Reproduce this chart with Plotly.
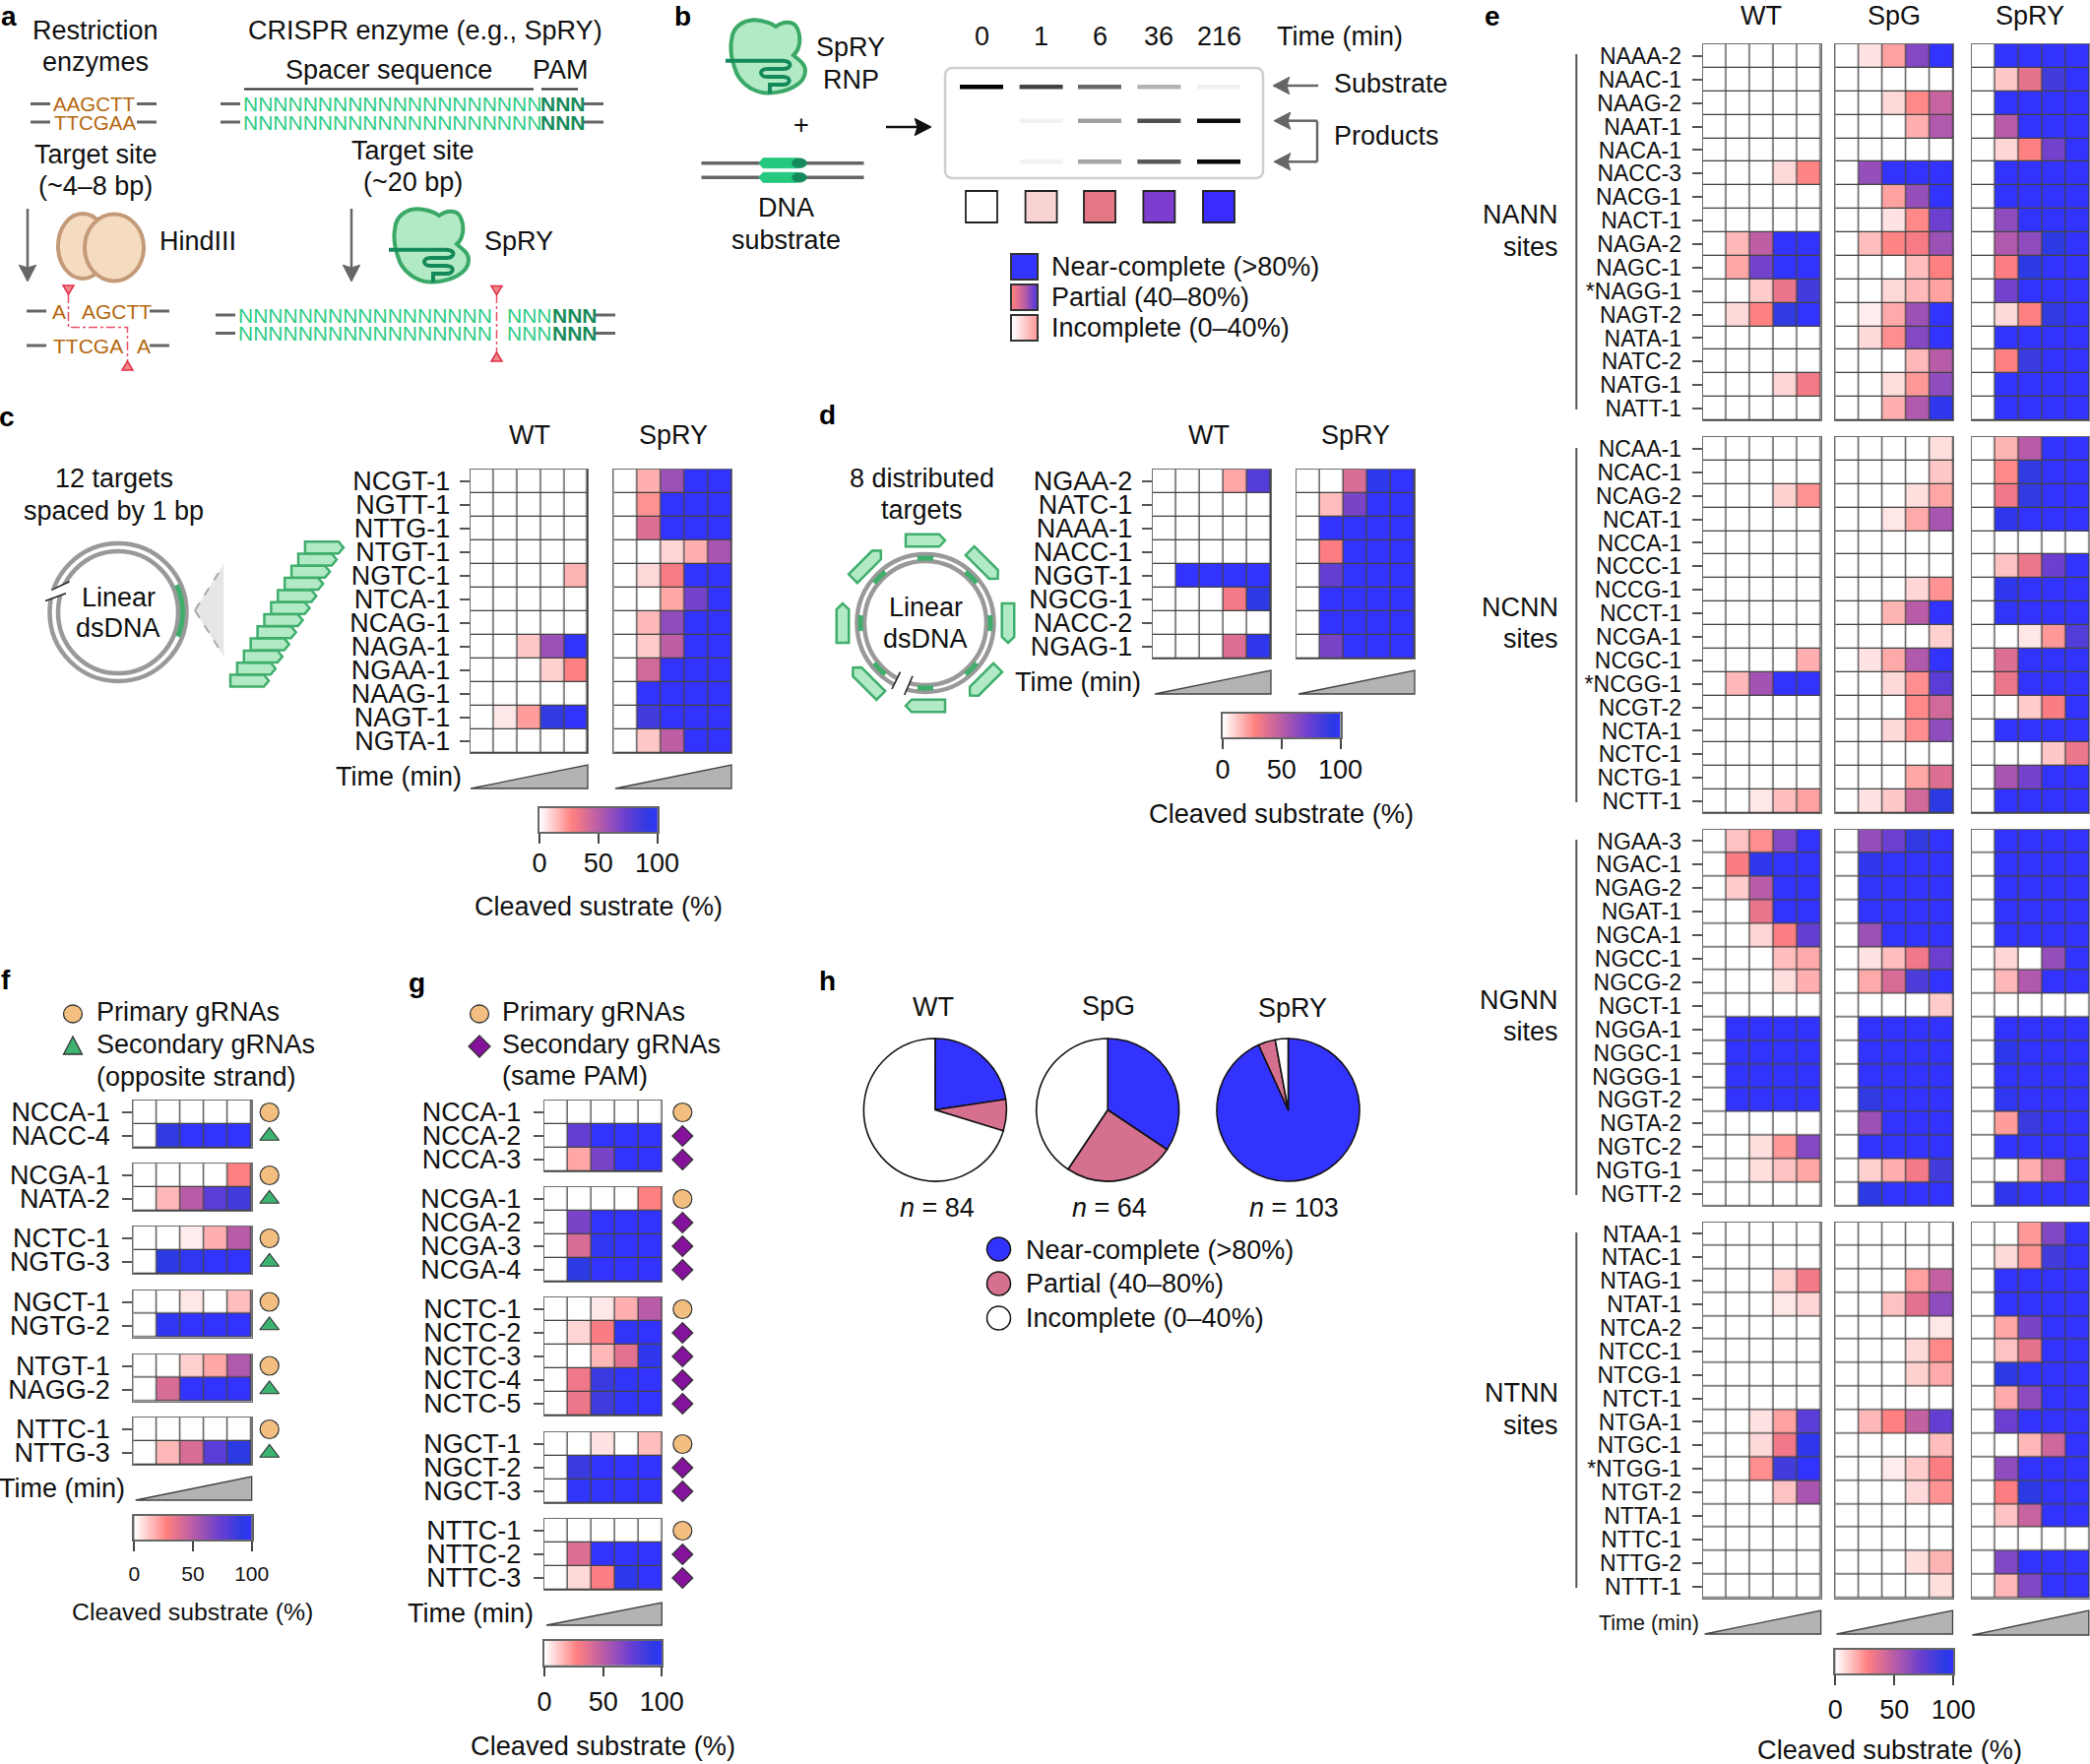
import math
import plotly.graph_objects as go

W, H = 2123, 1792
FONT = "Liberation Sans"

time_labels = ["0", "1", "6", "36", "216"]
gel_substrate = ["#000000", "#444444", "#6a6a6a", "#b4b4b4", "#f0f0f0"]
gel_product_1 = ["#ffffff", "#f2f2f2", "#a0a0a0", "#505050", "#0c0c0c"]
gel_product_2 = ["#ffffff", "#f2f2f2", "#a4a4a4", "#585858", "#080808"]
gel_swatches = ["#ffffff", "#f8d3d3", "#e57683", "#7d3ecf", "#3a2bff"]

cbar_values = [0, 5, 10, 15, 20, 25, 30, 35, 40, 45, 50, 55, 60, 65, 70, 75, 80, 85, 90, 95, 100]
cbar_ticks = [0, 50, 100]

# panel c
c_labels = ["NCGT-1", "NGTT-1", "NTTG-1", "NTGT-1", "NGTC-1", "NTCA-1", "NCAG-1", "NAGA-1", "NGAA-1", "NAAG-1", "NAGT-1", "NGTA-1"]
c_wt = [[0, 0, 0, 0, 0], [0, 0, 0, 0, 0], [0, 0, 0, 0, 0], [0, 0, 0, 0, 0],
        [0, 0, 0, 0, 16], [0, 0, 0, 0, 0], [0, 0, 0, 0, 0], [0, 0, 12, 58, 100],
        [0, 0, 0, 10, 27], [0, 0, 0, 0, 0], [0, 5, 21, 90, 100], [0, 0, 0, 0, 0]]
c_spry = [[0, 17, 58, 100, 100], [0, 23, 100, 100, 100], [0, 38, 100, 100, 100], [0, 0, 9, 17, 55],
          [0, 8, 30, 100, 100], [0, 0, 19, 70, 100], [0, 15, 62, 100, 100], [0, 11, 48, 100, 100],
          [0, 42, 100, 100, 100], [0, 100, 100, 100, 100], [0, 85, 100, 100, 100], [0, 12, 48, 100, 100]]

# panel d
d_labels = ["NGAA-2", "NATC-1", "NAAA-1", "NACC-1", "NGGT-1", "NGCG-1", "NACC-2", "NGAG-1"]
d_wt = [[0, 0, 0, 19, 80], [0, 0, 0, 0, 0], [0, 0, 0, 0, 0], [0, 0, 0, 0, 0],
        [0, 100, 100, 100, 100], [0, 0, 0, 31, 92], [0, 0, 0, 0, 0], [0, 0, 0, 38, 95]]
d_spry = [[0, 0, 40, 94, 100], [0, 14, 68, 100, 100], [0, 100, 100, 100, 100], [0, 28, 100, 100, 100],
          [0, 75, 100, 100, 100], [0, 100, 100, 100, 100], [0, 100, 100, 100, 100], [0, 68, 100, 100, 100]]

# panel e
nann_labels = ["NAAA-2", "NAAC-1", "NAAG-2", "NAAT-1", "NACA-1", "NACC-3", "NACG-1", "NACT-1", "NAGA-2", "NAGC-1", "*NAGG-1", "NAGT-2", "NATA-1", "NATC-2", "NATG-1", "NATT-1"]
nann_wt = [[0, 0, 0, 0, 0], [0, 0, 0, 0, 0], [0, 0, 0, 0, 0], [0, 0, 0, 0, 0],
           [0, 0, 0, 0, 0], [0, 0, 0, 8, 26], [0, 0, 0, 0, 0], [0, 0, 0, 0, 0],
           [0, 15, 48, 100, 100], [0, 19, 70, 100, 100], [0, 0, 11, 34, 85], [0, 8, 27, 90, 100],
           [0, 0, 0, 0, 0], [0, 0, 0, 0, 0], [0, 0, 0, 9, 31], [0, 0, 0, 0, 0]]
nann_spg = [[0, 6, 20, 65, 100], [0, 0, 0, 0, 0], [0, 0, 8, 25, 45], [0, 0, 0, 17, 52],
            [0, 0, 0, 0, 0], [0, 60, 100, 100, 100], [0, 0, 20, 60, 100], [0, 0, 6, 25, 72],
            [0, 14, 26, 30, 58], [0, 0, 0, 14, 27], [0, 0, 8, 15, 20], [0, 4, 18, 58, 100],
            [0, 8, 24, 65, 100], [0, 0, 0, 15, 50], [0, 0, 7, 22, 62], [0, 0, 17, 52, 95]]
nann_spry = [[0, 100, 100, 100, 100], [0, 12, 35, 85, 100], [0, 100, 100, 100, 100], [0, 50, 100, 100, 100],
             [0, 9, 27, 70, 100], [0, 100, 100, 100, 100], [0, 100, 100, 100, 100], [0, 62, 100, 100, 100],
             [0, 52, 62, 92, 100], [0, 28, 92, 100, 100], [0, 70, 100, 100, 100], [0, 8, 27, 90, 100],
             [0, 100, 100, 100, 100], [0, 27, 88, 100, 100], [0, 100, 100, 100, 100], [0, 100, 100, 100, 100]]

ncnn_labels = ["NCAA-1", "NCAC-1", "NCAG-2", "NCAT-1", "NCCA-1", "NCCC-1", "NCCG-1", "NCCT-1", "NCGA-1", "NCGC-1", "*NCGG-1", "NCGT-2", "NCTA-1", "NCTC-1", "NCTG-1", "NCTT-1"]
ncnn_wt = [[0, 0, 0, 0, 0], [0, 0, 0, 0, 0], [0, 0, 0, 10, 23], [0, 0, 0, 0, 0],
           [0, 0, 0, 0, 0], [0, 0, 0, 0, 0], [0, 0, 0, 0, 0], [0, 0, 0, 0, 0],
           [0, 0, 0, 0, 0], [0, 0, 0, 0, 17], [0, 15, 56, 100, 100], [0, 0, 0, 0, 0],
           [0, 0, 0, 0, 0], [0, 0, 0, 0, 0], [0, 0, 0, 0, 0], [0, 0, 5, 14, 20]]
ncnn_spg = [[0, 0, 0, 0, 7], [0, 0, 0, 0, 12], [0, 0, 0, 7, 19], [0, 0, 5, 18, 55],
            [0, 0, 0, 0, 0], [0, 0, 0, 0, 0], [0, 0, 0, 9, 23], [0, 0, 16, 50, 100],
            [0, 0, 0, 0, 10], [0, 6, 18, 52, 100], [0, 0, 8, 24, 78], [0, 0, 0, 25, 42],
            [0, 0, 8, 24, 62], [0, 0, 0, 0, 0], [0, 0, 0, 19, 38], [0, 6, 12, 42, 92]]
ncnn_spry = [[0, 16, 50, 100, 100], [0, 25, 90, 100, 100], [0, 32, 90, 100, 100], [0, 95, 100, 100, 100],
             [0, 0, 0, 0, 0], [0, 13, 33, 72, 100], [0, 95, 100, 100, 100], [0, 98, 100, 100, 100],
             [0, 0, 5, 22, 80], [0, 38, 100, 100, 100], [0, 33, 100, 100, 100], [0, 0, 11, 29, 100],
             [0, 100, 100, 100, 100], [0, 0, 0, 12, 33], [0, 55, 70, 100, 100], [0, 100, 100, 100, 100]]

ngnn_labels = ["NGAA-3", "NGAC-1", "NGAG-2", "NGAT-1", "NGCA-1", "NGCC-1", "NGCG-2", "NGCT-1", "NGGA-1", "NGGC-1", "NGGG-1", "NGGT-2", "NGTA-2", "NGTC-2", "NGTG-1", "NGTT-2"]
ngnn_wt = [[0, 13, 24, 65, 100], [0, 29, 95, 100, 100], [0, 11, 50, 100, 100], [0, 0, 34, 100, 100],
           [0, 0, 9, 28, 75], [0, 0, 0, 14, 18], [0, 0, 0, 7, 17], [0, 0, 0, 0, 0],
           [0, 100, 100, 100, 100], [0, 100, 100, 100, 100], [0, 100, 100, 100, 100], [0, 100, 100, 100, 100],
           [0, 0, 0, 0, 0], [0, 0, 7, 22, 65], [0, 0, 7, 13, 19], [0, 0, 0, 0, 0]]
ngnn_spg = [[0, 60, 72, 90, 100], [0, 95, 100, 100, 100], [0, 98, 100, 100, 100], [0, 100, 100, 100, 100],
            [0, 58, 100, 100, 100], [0, 6, 14, 32, 72], [0, 18, 40, 82, 100], [0, 0, 0, 0, 11],
            [0, 100, 100, 100, 100], [0, 100, 100, 100, 100], [0, 100, 100, 100, 100], [0, 90, 100, 100, 100],
            [0, 58, 100, 100, 100], [0, 100, 100, 100, 100], [0, 10, 17, 31, 85], [0, 92, 100, 100, 100]]
ngnn_spry = [[0, 100, 100, 100, 100], [0, 100, 100, 100, 100], [0, 100, 100, 100, 100], [0, 100, 100, 100, 100],
             [0, 100, 100, 100, 100], [0, 9, 0, 60, 100], [0, 15, 52, 100, 100], [0, 0, 0, 0, 0],
             [0, 100, 100, 100, 100], [0, 94, 100, 100, 100], [0, 100, 100, 100, 100], [0, 96, 100, 100, 100],
             [0, 21, 88, 100, 100], [0, 100, 100, 100, 100], [0, 0, 17, 44, 100], [0, 95, 100, 100, 100]]

ntnn_labels = ["NTAA-1", "NTAC-1", "NTAG-1", "NTAT-1", "NTCA-2", "NTCC-1", "NTCG-1", "NTCT-1", "NTGA-1", "NTGC-1", "*NTGG-1", "NTGT-2", "NTTA-1", "NTTC-1", "NTTG-2", "NTTT-1"]
ntnn_wt = [[0, 0, 0, 0, 0], [0, 0, 0, 0, 0], [0, 0, 0, 10, 31], [0, 0, 0, 5, 9],
           [0, 0, 0, 0, 0], [0, 0, 0, 0, 0], [0, 0, 0, 0, 0], [0, 0, 0, 0, 0],
           [0, 0, 6, 20, 78], [0, 0, 8, 32, 95], [0, 0, 24, 85, 100], [0, 0, 0, 13, 55],
           [0, 0, 0, 0, 0], [0, 0, 0, 0, 0], [0, 0, 0, 0, 0], [0, 0, 0, 0, 0]]
ntnn_spg = [[0, 0, 0, 0, 0], [0, 0, 0, 0, 0], [0, 0, 0, 20, 46], [0, 0, 13, 36, 62],
            [0, 0, 0, 0, 5], [0, 0, 0, 8, 25], [0, 0, 0, 10, 18], [0, 0, 0, 0, 0],
            [0, 15, 27, 47, 75], [0, 0, 0, 0, 14], [0, 0, 4, 11, 28], [0, 0, 0, 8, 23],
            [0, 0, 0, 0, 0], [0, 0, 0, 0, 0], [0, 0, 0, 7, 16], [0, 0, 0, 0, 7]]
ntnn_spry = [[0, 0, 22, 66, 100], [0, 8, 23, 85, 100], [0, 100, 100, 100, 100], [0, 100, 100, 100, 100],
             [0, 19, 68, 100, 100], [0, 13, 35, 100, 100], [0, 92, 100, 100, 100], [0, 18, 62, 100, 100],
             [0, 72, 100, 100, 100], [0, 0, 15, 43, 100], [0, 62, 100, 100, 100], [0, 28, 92, 100, 100],
             [0, 13, 45, 100, 100], [0, 0, 0, 0, 0], [0, 66, 100, 100, 100], [0, 15, 66, 100, 100]]

# panel f, pairs of primary / secondary
f_groups = [["NCCA-1", "NACC-4"], ["NCGA-1", "NATA-2"], ["NCTC-1", "NGTG-3"],
            ["NGCT-1", "NGTG-2"], ["NTGT-1", "NAGG-2"], ["NTTC-1", "NTTG-3"]]
f_values = [[[0, 0, 0, 0, 0], [0, 90, 100, 100, 100]],
            [[0, 0, 0, 0, 27], [0, 15, 50, 78, 85]],
            [[0, 0, 4, 17, 50], [0, 92, 96, 100, 100]],
            [[0, 0, 5, 0, 14], [0, 96, 100, 100, 100]],
            [[0, 0, 10, 19, 52], [0, 40, 100, 100, 100]],
            [[0, 0, 0, 0, 0], [0, 15, 40, 78, 92]]]

# panel g
g_groups = [["NCCA-1", "NCCA-2", "NCCA-3"], ["NCGA-1", "NCGA-2", "NCGA-3", "NCGA-4"],
            ["NCTC-1", "NCTC-2", "NCTC-3", "NCTC-4", "NCTC-5"], ["NGCT-1", "NGCT-2", "NGCT-3"],
            ["NTTC-1", "NTTC-2", "NTTC-3"]]
g_values = [[[0, 0, 0, 0, 0], [0, 75, 100, 100, 100], [0, 19, 68, 100, 100]],
            [[0, 0, 0, 0, 27], [0, 68, 100, 100, 100], [0, 40, 96, 100, 100], [0, 92, 100, 100, 100]],
            [[0, 0, 5, 17, 50], [0, 9, 29, 98, 100], [0, 0, 15, 36, 95], [0, 32, 88, 98, 100], [0, 33, 86, 98, 100]],
            [[0, 0, 6, 0, 14], [0, 88, 100, 100, 100], [0, 98, 100, 100, 100]],
            [[0, 0, 0, 0, 0], [0, 38, 100, 100, 100], [0, 8, 28, 94, 100]]]

# panel h
pie_names = ["WT", "SpG", "SpRY"]
pie_levels = ["Near-complete (>80%)", "Partial (40–80%)", "Incomplete (0–40%)"]
pie_wt = [19, 6, 59]
pie_spg = [22, 16, 26]
pie_spry = [96, 4, 3]
pie_colors = ["#3333ff", "#d6708f", "#ffffff"]

scale = [[0, "#ffffff"], [0.27, "#ff8080"], [0.5, "#b85ca8"], [0.72, "#6c3fd0"], [0.92, "#2c3ae4"], [1, "#3333ff"]]

fig = go.Figure()
shapes = []
notes = []
layout_axes = {}
axis_count = 0


def px(x):
    return x / W


def py(y):
    return 1 - y / H


def text(x, y, s, size=27, anchor="center", color="#111111"):
    notes.append(dict(x=px(x), y=py(y), xref="paper", yref="paper", text=s, showarrow=False,
                      xanchor=anchor, yanchor="middle", borderpad=0,
                      font=dict(family=FONT, size=size, color=color)))


def poly(points, fill="rgba(0,0,0,0)", line="#444444", width=1.5, close=True, dash=None):
    d = "M" + " L".join(f"{px(a):.5f},{py(b):.5f}" for a, b in points)
    if close:
        d += " Z"
    shapes.append(dict(type="path", path=d, xref="paper", yref="paper", fillcolor=fill,
                       line=dict(color=line, width=width, dash=dash)))


def curve(d_parts, ox, oy, fill="rgba(0,0,0,0)", line="#444444", width=2):
    # d_parts holds svg commands with local pixel points
    out = []
    for part in d_parts:
        cmd, pts = part
        out.append(cmd + " ".join(f"{px(ox + a):.5f},{py(oy + b):.5f}" for a, b in pts))
    shapes.append(dict(type="path", path=" ".join(out), xref="paper", yref="paper", fillcolor=fill,
                       line=dict(color=line, width=width)))


def seg(x0, y0, x1, y1, color="#666666", width=3, dash=None):
    shapes.append(dict(type="line", xref="paper", yref="paper", x0=px(x0), y0=py(y0), x1=px(x1), y1=py(y1),
                       line=dict(color=color, width=width, dash=dash)))


def box(x0, y0, x1, y1, fill, line=None, width=0, layer="above"):
    shapes.append(dict(type="rect", xref="paper", yref="paper", x0=px(x0), y0=py(y0), x1=px(x1), y1=py(y1),
                       fillcolor=fill, layer=layer, line=dict(color=line or fill, width=width)))


def oval(cx, cy, rx, ry, fill="rgba(0,0,0,0)", line="#999999", width=4):
    shapes.append(dict(type="circle", xref="paper", yref="paper", x0=px(cx - rx), y0=py(cy - ry),
                       x1=px(cx + rx), y1=py(cy + ry), fillcolor=fill, line=dict(color=line, width=width)))


def arrow(x0, y0, x1, y1, color="#666666", width=3, head=12):
    ang = math.atan2(y1 - y0, x1 - x0)
    bx, by = x1 - head * math.cos(ang), y1 - head * math.sin(ang)
    seg(x0, y0, bx, by, color, width)
    nx, ny = -math.sin(ang) * head * 0.62, math.cos(ang) * head * 0.62
    poly([(x1, y1), (bx + nx - head * 0.2 * math.cos(ang), by + ny - head * 0.2 * math.sin(ang)), (bx, by),
          (bx - nx - head * 0.2 * math.cos(ang), by - ny - head * 0.2 * math.sin(ang))], fill=color, line=color, width=1)


def pentagon(cx, cy, length, thick, deg, tip=6):
    a = math.radians(deg)
    local = [(-length / 2, -thick / 2), (length / 2 - tip, -thick / 2), (length / 2, 0),
             (length / 2 - tip, thick / 2), (-length / 2, thick / 2)]
    pts = [(cx + u * math.cos(a) - v * math.sin(a), cy + u * math.sin(a) + v * math.cos(a)) for u, v in local]
    poly(pts, fill="#b3eac6", line="#3fae6c", width=2.5)


def arc(cx, cy, r, a0, a1, color="#3fae6c", width=5):
    steps = 10
    pts = []
    for i in range(steps + 1):
        a = math.radians(a0 + (a1 - a0) * i / steps)
        pts.append((cx + r * math.sin(a), cy - r * math.cos(a)))
    poly(pts, line=color, width=width, close=False)


def time_wedge(x0, x1, y0, y1):
    poly([(x0, y1), (x1, y0), (x1, y1)], fill="#b3b3b3", line="#444444", width=1.3)


def next_axes(x0, x1, y0, y1):
    global axis_count
    axis_count += 1
    k = axis_count
    xname, yname = f"xaxis{k}", f"yaxis{k}"
    ax = dict(domain=[px(x0), px(x1)], anchor=f"y{k}", showgrid=False, zeroline=False, automargin=False)
    ay = dict(domain=[py(y1), py(y0)], anchor=f"x{k}", showgrid=False, zeroline=False, automargin=False)
    layout_axes[xname] = ax
    layout_axes[yname] = ay
    return k, ax, ay


def grid(x0, x1, y0, y1, labels, rows, show_labels=True, size=27, ticklen=10, standoff=4):
    k, ax, ay = next_axes(x0, x1, y0, y1)
    n = len(labels)
    fig.add_trace(go.Heatmap(z=rows, x=[0, 1, 2, 3, 4], y=labels, xaxis=f"x{k}", yaxis=f"y{k}", colorscale=scale,
                             zmin=0, zmax=100, showscale=False, xgap=1.3, ygap=1.3, hoverinfo="skip"))
    ax.update(range=[-0.5, 4.5], showticklabels=False, ticks="", showline=True, mirror=True,
              linecolor="#6e6e6e", linewidth=1)
    ay.update(type="category", range=[n - 0.5, -0.5], showline=True, mirror=True, linecolor="#6e6e6e", linewidth=1)
    if show_labels:
        ay.update(tickmode="array", tickvals=labels, ticktext=labels, ticks="outside", ticklen=ticklen,
                  tickwidth=1.5, tickcolor="#555555", ticklabelstandoff=standoff,
                  tickfont=dict(family=FONT, size=size, color="#111111"))
    else:
        ay.update(showticklabels=False, ticks="")


def marker_column(cx, y0, y1, labels, symbols, sizes, colors):
    # narrow subplot beside a group, the same rows as the heatmap
    k, ax, ay = next_axes(cx - 14, cx + 14, y0, y1)
    box(cx - 16, y0 - 2, cx + 16, y1 + 2, "#ffffff", layer="below")
    fig.add_trace(go.Scatter(x=[0] * len(labels), y=labels, mode="markers", xaxis=f"x{k}", yaxis=f"y{k}",
                             cliponaxis=False, hoverinfo="skip", showlegend=False,
                             marker=dict(symbol=symbols, size=sizes, color=colors, opacity=1,
                                         line=dict(color="#333333", width=1.2))))
    ax.update(range=[-1, 1], visible=False)
    ay.update(type="category", range=[len(labels) - 0.5, -0.5], visible=False)


def colorbar(x0, x1, y0, y1, size=27, standoff=0):
    k, ax, ay = next_axes(x0, x1, y0, y1)
    fig.add_trace(go.Heatmap(z=[cbar_values, cbar_values], x=cbar_values, y=[0, 1], xaxis=f"x{k}", yaxis=f"y{k}",
                             colorscale=scale, zmin=0, zmax=100, zsmooth="best", showscale=False, hoverinfo="skip"))
    ax.update(range=[0, 100], tickmode="array", tickvals=cbar_ticks, ticks="outside", ticklen=10, tickwidth=1.5,
              tickcolor="#444444", ticklabelstandoff=standoff, tickfont=dict(family=FONT, size=size, color="#111111"),
              showline=True, mirror=True, linecolor="#666666", linewidth=1.5)
    ay.update(range=[0, 1], showticklabels=False, ticks="", showline=True, mirror=True, linecolor="#666666", linewidth=1.5)


def swatch(x0, x1, y0, y1, vals):
    k, ax, ay = next_axes(x0, x1, y0, y1)
    xs = list(range(len(vals)))
    fig.add_trace(go.Heatmap(z=[vals, vals], x=xs, y=[0, 1], xaxis=f"x{k}", yaxis=f"y{k}", colorscale=scale,
                             zmin=0, zmax=100, zsmooth="best", showscale=False, hoverinfo="skip"))
    ax.update(range=[0, len(vals) - 1], showticklabels=False, ticks="", showline=True, mirror=True, linecolor="#333333", linewidth=2)
    ay.update(range=[0, 1], showticklabels=False, ticks="", showline=True, mirror=True, linecolor="#333333", linewidth=2)


def enzyme(ox, oy):
    body = [("M", [(35.7, 1)]),
            ("C", [(20, -2), (7, 6), (6, 21)]),
            ("C", [(4, 35), (8, 45), (11, 54)]),
            ("C", [(18, 68), (32, 75), (44.6, 74.5)]),
            ("C", [(62, 74), (81, 66), (81, 52)]),
            ("C", [(81, 44), (74, 41), (69, 36)]),
            ("C", [(76, 30), (77, 18), (73, 9)]),
            ("C", [(70, 2), (60, 0), (51, 7)]),
            ("C", [(47, 4), (41, 2), (35.7, 1)]), ("Z", [])]
    curve(body, ox, oy, fill="#b3eac6", line="#3aa866", width=4)
    rna = [("M", [(0, 41.7)]), ("L", [(58, 41.7)]),
           ("C", [(68, 41.7), (68, 50), (58, 50)]), ("L", [(42, 50)]),
           ("C", [(34, 50), (34, 58), (42, 58)]), ("L", [(58, 58)]),
           ("C", [(67, 58), (67, 66), (58, 66)]), ("L", [(45, 66)]), ("L", [(45, 75)])]
    curve(rna, ox, oy, line="#148a5a", width=4)


def cut_mark(x, y, up):
    if up:
        poly([(x, y), (x - 5.5, y + 9), (x + 5.5, y + 9)], fill="#f08a8a", line="#e0304a", width=1.5)
    else:
        poly([(x, y + 9), (x - 5.5, y), (x + 5.5, y)], fill="#f08a8a", line="#e0304a", width=1.5)


# panel letters
for s, x, y in [("a", 9, 17), ("b", 693, 17), ("c", 7, 423), ("d", 840, 421), ("e", 1516, 17),
                ("f", 6, 995), ("g", 423, 998), ("h", 840, 996)]:
    text(x, y, f"<b>{s}</b>", size=28, color="#000000")

# panel a
text(97, 31, "Restriction")
text(97, 63, "enzymes")
text(432, 31, "CRISPR enzyme (e.g., SpRY)")
text(395, 71, "Spacer sequence")
text(569, 71, "PAM")
seg(248, 90.5, 542, 90.5, "#222222", 2)
seg(550, 90.5, 587, 90.5, "#222222", 2)
for y, s in [(105.5, "AAGCTT"), (124, "TTCGAA")]:
    seg(31, y, 51, y, "#666666", 3)
    seg(139, y, 159, y, "#666666", 3)
    text(96, y, s, size=20.5, color="#b5670e")
    seg(224, y, 244, y, "#666666", 3)
    seg(593, y, 613, y, "#666666", 3)
    text(246, y, "N" * 20, size=21, anchor="left", color="#2ecc85")
    text(548, y, "<b>NNN</b>", size=21, anchor="left", color="#178a5a")
text(97, 157, "Target site")
text(97, 189, "(~4–8 bp)")
text(419, 153, "Target site")
text(419, 185, "(~20 bp)")
arrow(28, 212, 28, 286, "#666666", 2.5, 14)
arrow(357, 212, 357, 286, "#666666", 2.5, 14)
oval(84, 250, 25, 33, fill="#f5dcc0", line="#c49a78", width=4)
oval(116, 251.5, 30, 34, fill="#f5dcc0", line="#c49a78", width=4)
text(161, 245, "HindIII", anchor="left")
enzyme(395, 212)
text(491, 245, "SpRY", anchor="left")
seg(27, 316, 47, 316)
seg(152, 316, 172, 316)
seg(27, 351, 47, 351)
seg(152, 351, 172, 351)
text(52, 316, "A", size=21, anchor="left", color="#b5670e")
text(82, 316, "AGCTT", size=21, anchor="left", color="#b5670e")
text(53, 351, "TTCGA", size=21, anchor="left", color="#b5670e")
text(138, 351, "A", size=21, anchor="left", color="#b5670e")
poly([(69.5, 299), (69.5, 332.5), (129.5, 332.5), (129.5, 367)], line="#e8506a", width=1.5, close=False, dash="dashdot")
cut_mark(69.5, 290, False)
cut_mark(129.5, 367, True)
for y in [320, 338.5]:
    seg(219, y, 239, y)
    seg(605, y, 625, y)
    text(241, y, "N" * 17, size=21, anchor="left", color="#2ecc85")
    text(514, y, "NNN", size=21, anchor="left", color="#2ecc85")
    text(560, y, "<b>NNN</b>", size=21, anchor="left", color="#178a5a")
seg(504.5, 299, 504.5, 358, "#e8506a", 1.5, "dashdot")
cut_mark(504.5, 290.5, False)
cut_mark(504.5, 358, True)

# panel b
enzyme(737, 20)
text(864, 48, "SpRY")
text(864, 81, "RNP")
text(814, 127, "+")
for y in [165.7, 180.3]:
    seg(712.5, y, 877.5, y, "#666666", 3.5)
    poly([(775, y - 5), (810, y - 5), (810, y + 5), (775, y + 5), (771, y)], fill="#24c97d", line="#24c97d", width=1)
    oval(812, y, 7.5, 5, fill="#148a5a", line="#148a5a", width=0.5)
text(798, 211, "DNA")
text(798, 244, "substrate")
arrow(900, 129, 946, 129, "#111111", 2.5, 14)
lanes = [997, 1057.6, 1117, 1177.4, 1238]
shapes.append(dict(type="path", xref="paper", yref="paper", line=dict(color="#cfcfcf", width=2.5),
                   path=f"M{px(968)},{py(69)} L{px(1275)},{py(69)} Q{px(1283)},{py(69)} {px(1283)},{py(77)} "
                        f"L{px(1283)},{py(173)} Q{px(1283)},{py(181)} {px(1275)},{py(181)} L{px(968)},{py(181)} "
                        f"Q{px(960)},{py(181)} {px(960)},{py(173)} L{px(960)},{py(77)} Q{px(960)},{py(69)} {px(968)},{py(69)} Z"))
for i, x in enumerate(lanes):
    text(x, 37, time_labels[i])
    box(x - 22, 86, x + 22, 90.5, gel_substrate[i])
    if i > 0:
        box(x - 22, 120.5, x + 22, 125, gel_product_1[i])
        box(x - 22, 162, x + 22, 166.5, gel_product_2[i])
    box(x - 16, 194, x + 16, 226, gel_swatches[i], "#222222", 1.8)
text(1361, 37, "Time (min)")
arrow(1339, 87, 1293, 87, "#666666", 2.5, 14)
text(1354, 85, "Substrate", anchor="left")
seg(1306, 122.7, 1338, 122.7, "#666666", 2.5)
seg(1338, 122.7, 1338, 164.3, "#666666", 2.5)
seg(1338, 164.3, 1306, 164.3, "#666666", 2.5)
arrow(1310, 122.7, 1294, 122.7, "#666666", 2.5, 14)
arrow(1310, 164.3, 1294, 164.3, "#666666", 2.5, 14)
text(1354, 138, "Products", anchor="left")
swatch(1028, 1053, 259, 283, [100, 100])
swatch(1028, 1053, 290, 314, [27, 50, 82])
swatch(1028, 1053, 321, 345, [0, 22])
text(1067, 271, pie_levels[0], anchor="left")
text(1067, 302, pie_levels[1], anchor="left")
text(1067, 333, pie_levels[2], anchor="left")

# panel c
text(538, 442, "WT")
text(684, 442, "SpRY")
text(116, 486, "12 targets")
text(115, 519, "spaced by 1 bp")
oval(120, 622, 69.5, 70, width=4.5)
oval(120, 622, 61, 62, width=4.5)
arc(120, 622, 65.5, 65, 112)
poly([(46, 610), (67, 603), (71, 591), (52, 599)], fill="#ffffff", line="#ffffff", width=1)
seg(46, 610.4, 67, 602.8, "#222222", 1.6)
seg(52.2, 599.4, 70.6, 590.8, "#222222", 1.6)
text(120, 607, "Linear")
text(120, 638, "dsDNA")
poly([(198, 620), (227, 574), (227, 666)], fill="#e6e6e6", line="#e6e6e6", width=0.5)
seg(198, 620, 227, 574, "#aaaaaa", 2, "dash")
seg(198, 620, 227, 666, "#aaaaaa", 2, "dash")
for i in range(12):
    pentagon(253.5 + 6.9 * i, 691.5 - 12.3 * i, 39, 12, 0, tip=5)
grid(477.6, 597, 477, 765, c_labels, c_wt)
grid(623.4, 743.3, 477, 765, c_labels, c_spry, show_labels=False)
text(470, 789, "Time (min)", anchor="right")
time_wedge(478, 597, 777, 801)
time_wedge(625, 743, 777, 801)
colorbar(548, 667.6, 821, 845, standoff=-3)
text(607.6, 921, "Cleaved sustrate (%)")

# panel d
text(1228, 442, "WT")
text(1377, 442, "SpRY")
text(936, 486, "8 distributed")
text(936, 518, "targets")
oval(940, 633, 69.5, 70, width=4.5)
oval(940, 633, 62, 63, width=4.5)
for i in range(8):
    a = 45 * i
    arc(940, 633, 66, a - 7, a + 7)
    pentagon(940 + 84 * math.sin(math.radians(a)), 633 - 84 * math.cos(math.radians(a)), 40, 12.5, a, tip=6)
poly([(914.5, 682.7), (906, 700), (918.7, 706), (927, 686.7)], fill="#ffffff", line="#ffffff", width=1)
seg(914.5, 682.7, 906, 700, "#222222", 1.6)
seg(927, 686.7, 918.7, 706, "#222222", 1.6)
text(940, 617, "Linear")
text(940, 649, "dsDNA")
grid(1170.7, 1291, 477, 669, d_labels, d_wt)
grid(1316.7, 1437, 477, 669, d_labels, d_spry, show_labels=False)
text(1160, 693, "Time (min)", anchor="right")
time_wedge(1173, 1291, 681, 705)
time_wedge(1319, 1437, 681, 705)
colorbar(1242, 1361.5, 725, 749, standoff=-2)
text(1301, 826, "Cleaved substrate (%)", size=27.2)

# panel e
text(1789, 16, "WT")
text(1924, 16, "SpG")
text(2062, 16, "SpRY")
e_blocks = [(45, 427, nann_labels, nann_wt, nann_spg, nann_spry, "NANN", 218, 251, 55, 416),
            (444, 826, ncnn_labels, ncnn_wt, ncnn_spg, ncnn_spry, "NCNN", 617, 649, 455, 815),
            (842.5, 1225, ngnn_labels, ngnn_wt, ngnn_spg, ngnn_spry, "NGNN", 1016, 1048, 853, 1214),
            (1241.5, 1623.5, ntnn_labels, ntnn_wt, ntnn_spg, ntnn_spry, "NTNN", 1415, 1448, 1252, 1613)]
for y0, y1, labs, wt, spg, spry, name, ty0, ty1, by0, by1 in e_blocks:
    grid(1729.6, 1849.6, y0, y1, labs, wt, size=23, standoff=6)
    grid(1864.3, 1984.3, y0, y1, labs, spg, show_labels=False)
    grid(2002.6, 2122.6, y0, y1, labs, spry, show_labels=False)
    text(1584, ty0, name, anchor="right")
    text(1584, ty1, "sites", anchor="right")
    seg(1601.3, by0, 1601.3, by1, "#555555", 2)
text(1726.5, 1649, "Time (min)", size=21.5, anchor="right")
time_wedge(1731.6, 1849.6, 1636, 1660)
time_wedge(1865.5, 1983.5, 1636, 1660)
time_wedge(2003.4, 2121.8, 1636, 1661)
colorbar(1864.3, 1984.3, 1676, 1700, standoff=2)
text(1919, 1777, "Cleaved substrate (%)", size=27.2)

# panel f
f_tops = [1118, 1182, 1246, 1310.5, 1375.5, 1440]
for top, labs, vals in zip(f_tops, f_groups, f_values):
    grid(135.3, 255.7, top, top + 48, labs, vals, standoff=7)
    marker_column(273.7, top, top + 48, labs, ["circle", "triangle-up"], [19, 17], ["#f2bf80", "#3cb371"])
oval(74, 1030, 9.5, 9, fill="#f2bf80", line="#333333", width=1.3)
poly([(74, 1053), (64.5, 1071), (83.5, 1071)], fill="#3cb371", line="#333333", width=1.3)
text(97, 1028, "Primary gRNAs", anchor="left")
text(97, 1061, "Secondary gRNAs", anchor="left")
text(97, 1094, "(opposite strand)", anchor="left")
text(128.3, 1512, "Time (min)", anchor="right")
time_wedge(137.7, 255.7, 1500, 1524)
colorbar(136.3, 255.7, 1540, 1564, size=21, standoff=5)
text(195.7, 1637, "Cleaved substrate (%)", size=24.8)

# panel g
g_tops = [1118, 1206, 1318, 1455, 1543]
for top, labs, vals in zip(g_tops, g_groups, g_values):
    n_rows = len(labs)
    grid(552.7, 672.3, top, top + 24 * n_rows, labs, vals, standoff=7)
    marker_column(693.3, top, top + 24 * n_rows, labs, ["circle"] + ["diamond"] * (n_rows - 1),
                  [19] + [16] * (n_rows - 1), ["#f2bf80"] + ["#85129b"] * (n_rows - 1))
oval(487, 1030, 9.5, 9, fill="#f2bf80", line="#333333", width=1.3)
poly([(487, 1052), (476, 1063), (487, 1074), (498, 1063)], fill="#85129b", line="#333333", width=1.3)
text(509, 1028, "Primary gRNAs", anchor="left")
text(509, 1061, "Secondary gRNAs", anchor="left")
text(509, 1093, "(same PAM)", anchor="left")
text(542.7, 1639, "Time (min)", anchor="right")
time_wedge(555, 672.3, 1628, 1651)
colorbar(553, 672.3, 1667, 1691.5, standoff=2)
text(612, 1773.5, "Cleaved substrate (%)", size=27.2)

# panel h
pie_lefts = [877.4, 1052.7, 1236]
pie_values = [pie_wt, pie_spg, pie_spry]
for left, vals in zip(pie_lefts, pie_values):
    fig.add_trace(go.Pie(values=vals, labels=pie_levels, sort=False, direction="clockwise", rotation=0,
                         domain=dict(x=[px(left), px(left + 145)], y=[py(1200), py(1055)]),
                         marker=dict(colors=pie_colors, line=dict(color="#111111", width=1.6)),
                         textinfo="none", hoverinfo="skip", showlegend=False))
text(948, 1023, pie_names[0])
text(1126, 1022, pie_names[1])
text(1313, 1024, pie_names[2])
text(952, 1227, "<i>n</i> = 84")
text(1127, 1227, "<i>n</i> = 64")
text(1314, 1227, "<i>n</i> = 103")
for y, col, name in zip([1269, 1304, 1339], pie_colors, pie_levels):
    oval(1014.5, y, 12, 12, fill=col, line="#111111", width=1.5)
    text(1041, y + (1 if y == 1269 else 0), name, anchor="left")

fig.update_layout(width=W, height=H, autosize=False, margin=dict(l=0, r=0, t=0, b=0, pad=0, autoexpand=False),
                  paper_bgcolor="#ffffff", plot_bgcolor="#444444", showlegend=False,
                  shapes=shapes, annotations=notes, font=dict(family=FONT, color="#111111"), **layout_axes)

fig.write_html("out.html", config=dict(displayModeBar=False), post_script="document.body.style.margin='0';")
